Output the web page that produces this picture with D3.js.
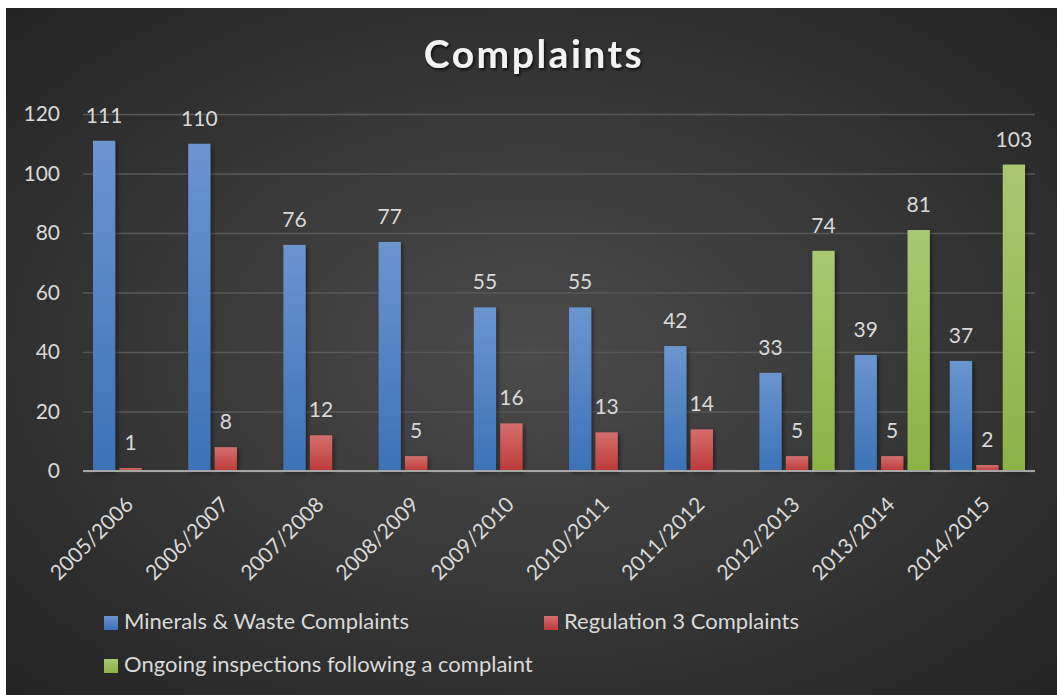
<!DOCTYPE html>
<html>
<head>
<meta charset="utf-8">
<script src="https://cdn.jsdelivr.net/npm/d3@7"></script>
<style>
    body { margin: 0; background: #fff; }
    svg { display: block; }
    text { font-family: Lato, "Open Sans", sans-serif; }
</style>
</head>
<body>
<svg></svg>
<script>
// Data
let years = ['2005/2006', '2006/2007', '2007/2008', '2008/2009', '2009/2010',
             '2010/2011', '2011/2012', '2012/2013', '2013/2014', '2014/2015']
let minerals = [111, 110, 76, 77, 55, 55, 42, 33, 39, 37]
let regulation3 = [1, 8, 12, 5, 16, 13, 14, 5, 5, 2]
let ongoing = [null, null, null, null, null, null, null, 74, 81, 103]
let seriesNames = ['Minerals & Waste Complaints', 'Regulation 3 Complaints', 'Ongoing inspections following a complaint']
let yTicks = [0, 20, 40, 60, 80, 100, 120]

// Graph Dimensions
let width = 1057
let height = 695
let plot = { left: 83, right: 1035, top: 114, bottom: 471 }

let series = [minerals, regulation3, ongoing]
let colors = [
    { top: '#6b95cf', bottom: '#3b72b7' },
    { top: '#d46f6d', bottom: '#bd3a38' },
    { top: '#a9c871', bottom: '#8ab345' }
]

// Scales
let scale = {
    x: d3.scaleBand().domain(years).range([plot.left, plot.right]).paddingInner(0.21).paddingOuter(0.105),
    y: d3.scaleLinear().domain([0, 120]).range([plot.bottom, plot.top])
}
let inner = d3.scaleBand().domain([0, 1, 2]).range([0, scale.x.bandwidth()]).paddingInner(0.16)

// SVG
let svg = d3.select('svg')
            .attr('width', width)
            .attr('height', height)

let defs = svg.append('defs')

let bg = defs.append('radialGradient')
    .attr('id', 'bg')
    .attr('cx', 0.5).attr('cy', 0.5).attr('r', 0.72)
bg.append('stop').attr('offset', '0%').attr('stop-color', '#4b4b4b')
bg.append('stop').attr('offset', '100%').attr('stop-color', '#232323')

colors.forEach((c, i) => {
    let g = defs.append('linearGradient')
        .attr('id', 'bar' + i)
        .attr('x1', 0).attr('y1', 0).attr('x2', 0).attr('y2', 1)
    g.append('stop').attr('offset', '0%').attr('stop-color', c.top)
    g.append('stop').attr('offset', '100%').attr('stop-color', c.bottom)
})

let shadow = defs.append('filter').attr('id', 'shadow')
    .attr('x', '-30%').attr('y', '-10%').attr('width', '160%').attr('height', '130%')
shadow.append('feDropShadow').attr('dx', 2).attr('dy', 2).attr('stdDeviation', 2)
    .attr('flood-color', '#000').attr('flood-opacity', 0.45)

let titleShadow = defs.append('filter').attr('id', 'titleShadow')
titleShadow.append('feDropShadow').attr('dx', 1.5).attr('dy', 2).attr('stdDeviation', 1.5)
    .attr('flood-color', '#000').attr('flood-opacity', 0.7)

// Background
svg.append('rect')
    .attr('x', 6).attr('y', 8)
    .attr('width', width - 6).attr('height', height - 8)
    .attr('fill', 'url(#bg)')

// Gridlines
let grid = d3.axisLeft(scale.y)
    .tickValues(yTicks)
    .tickFormat('')
    .tickSize(-(plot.right - plot.left))

svg.append('g')
    .attr('transform', `translate(${plot.left},0)`)
    .call(grid)
    .call(g => g.select('.domain').remove())
    .call(g => g.selectAll('line').attr('stroke', '#585858').attr('stroke-width', 1.3))

// Y axis labels
let yAxis = d3.axisLeft(scale.y).tickValues(yTicks).tickSize(0).tickPadding(0)
svg.append('g')
    .attr('transform', `translate(60,0)`)
    .call(yAxis)
    .call(g => g.select('.domain').remove())
    .call(g => g.selectAll('text')
        .attr('fill', '#d9d9d9')
        .style('font-size', '21px')
        .style('font-family', 'Lato, sans-serif'))

// Bars
series.forEach((values, s) => {
    let rows = years.map((y, i) => ({ year: y, value: values[i] })).filter(d => d.value != null)
    let g = svg.append('g')

    g.selectAll('rect')
        .data(rows)
        .enter()
        .append('rect')
        .attr('x', d => scale.x(d.year) + inner(s))
        .attr('y', d => scale.y(d.value))
        .attr('width', inner.bandwidth())
        .attr('height', d => scale.y(0) - scale.y(d.value))
        .attr('fill', `url(#bar${s})`)
        .attr('filter', 'url(#shadow)')

    g.selectAll('text')
        .data(rows)
        .enter()
        .append('text')
        .attr('x', d => scale.x(d.year) + inner(s) + inner.bandwidth() / 2)
        .attr('y', d => scale.y(d.value) - 18)
        .attr('text-anchor', 'middle')
        .attr('fill', '#d9d9d9')
        .style('font-size', '21px')
        .text(d => d.value)
})

// X Axis line
svg.append('line')
    .attr('x1', plot.left).attr('x2', plot.right)
    .attr('y1', scale.y(0)).attr('y2', scale.y(0))
    .attr('stroke', '#a6a6a6')
    .attr('stroke-width', 2.2)

// X labels
svg.append('g')
    .selectAll('text')
    .data(years)
    .enter()
    .append('text')
    .attr('transform', d => `translate(${scale.x(d) + scale.x.bandwidth() / 2 + 4},${plot.bottom + 35}) rotate(-45)`)
    .attr('text-anchor', 'end')
    .attr('fill', '#d9d9d9')
    .style('font-size', '21px')
    .text(d => d)

// Title
svg.append('text')
    .attr('x', 534)
    .attr('y', 68)
    .attr('text-anchor', 'middle')
    .attr('fill', '#f2f2f2')
    .attr('filter', 'url(#titleShadow)')
    .style('font-size', '39px')
    .style('font-weight', 'bold')
    .style('letter-spacing', '2.5px')
    .text('Complaints')

// Legend
let legendPos = [[104, 616], [544, 616], [104, 659]]
let legend = svg.append('g')
seriesNames.forEach((name, i) => {
    let item = legend.append('g').attr('transform', `translate(${legendPos[i][0]},${legendPos[i][1]})`)
    item.append('rect')
        .attr('width', 14).attr('height', 14)
        .attr('fill', `url(#bar${i})`)
    item.append('text')
        .attr('x', 20)
        .attr('y', 13)
        .attr('fill', '#d9d9d9')
        .style('font-size', '22px')
        .text(name)
})
</script>
</body>
</html>
